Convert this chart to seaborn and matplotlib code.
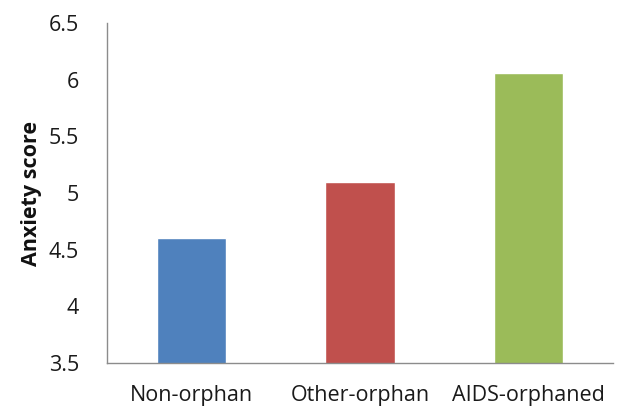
import matplotlib
matplotlib.use("Agg")
import matplotlib.pyplot as plt
import seaborn as sns
import pandas as pd

groups = ["Non-orphan", "Other-orphan", "AIDS-orphaned"]
anxiety = [4.60, 5.10, 6.06]
colors = ["#4F81BD", "#C0504D", "#9BBB59"]
yticks = [3.5, 4, 4.5, 5, 5.5, 6, 6.5]
ytick_labels = ["3.5", "4", "4.5", "5", "5.5", "6", "6.5"]

sns.set_style("white")
plt.rcParams["font.family"] = ["Open Sans", "DejaVu Sans"]

df = pd.DataFrame({"group": groups, "score": anxiety})

fig = plt.figure(figsize=(6.23, 4.12), dpi=100)
ax = fig.add_axes([0.1717, 0.119, 0.8123, 0.825])

sns.barplot(data=df, x="group", y="score", hue="group", palette=colors,
            order=groups, hue_order=groups, legend=False, width=0.41,
            saturation=1, ax=ax)

ax.set_ylim(3.5, 6.5)
ax.set_yticks(yticks)
ax.set_yticklabels(ytick_labels)
ax.set_xlabel("")
ax.set_ylabel("Anxiety score", fontsize=15.5, fontweight="bold", labelpad=5,
              color="#111111")

ax.tick_params(axis="y", length=0, pad=20, labelsize=15.5, labelcolor="#1a1a1a")
ax.tick_params(axis="x", length=0, pad=16, labelsize=15.5, labelcolor="#1a1a1a")

for side in ["top", "right"]:
    ax.spines[side].set_visible(False)
for side in ["left", "bottom"]:
    ax.spines[side].set_color("#8c8c8c")
    ax.spines[side].set_linewidth(1.0)

fig.savefig("out.png", dpi=100)
